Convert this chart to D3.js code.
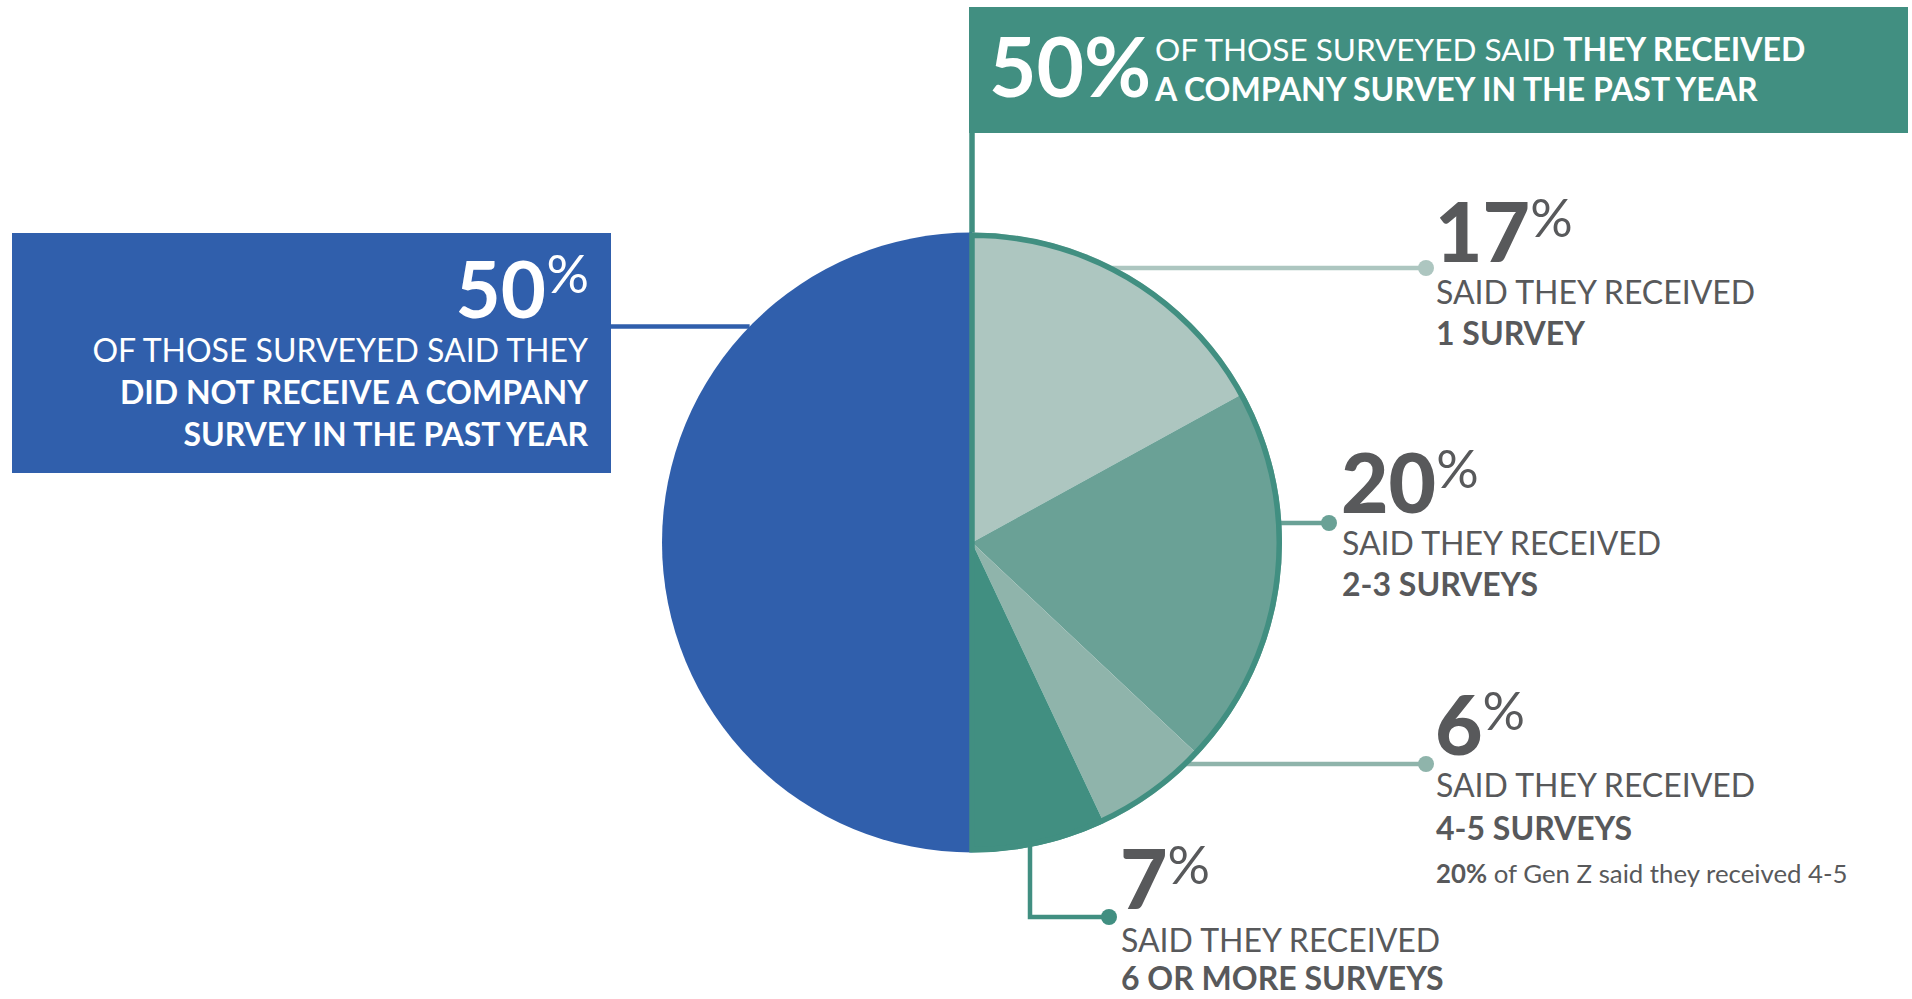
<!DOCTYPE html>
<html>
<head>
<meta charset="utf-8">
<script src="https://cdn.jsdelivr.net/npm/d3@7"></script>
<style>
  html, body { margin: 0; padding: 0; background: #ffffff; }
  svg { display: block; font-family: "Lato", "Open Sans", sans-serif; }
</style>
</head>
<body>
<svg id="chart" width="1912" height="999"></svg>
<script>
// Survey shares: how many company surveys respondents received in the past year
const categories = ["1 SURVEY", "2-3 SURVEYS", "4-5 SURVEYS", "6 OR MORE SURVEYS", "NO SURVEY"];
const shares = [17, 20, 6, 7, 50];
const sliceColors = ["#adc6c0", "#6aa196", "#8fb4ab", "#418f81", "#305fac"];
const labelLead = "SAID THEY RECEIVED";
const receivedTotal = 50;
const notReceivedTotal = 50;
const genZNote = { value: 20, text: " of Gen Z said they received 4-5" };

const GRAY = "#58595b";
const TEAL = "#418f81";
const BLUE = "#305fac";

const svg = d3.select("#chart");

// pie geometry
const cx = 972, cy = 542.5, R = 310;
const edgeX = (y, side) => cx + side * Math.sqrt(R * R - (y - cy) * (y - cy));
const edgeY = (x) => cy + Math.sqrt(R * R - (x - cx) * (x - cx));

const pie = d3.pie().sort(null).startAngle(0).endAngle(2 * Math.PI).value(d => d);
const arcs = pie(shares);
const arc = d3.arc().innerRadius(0).outerRadius(R);

// ---------- header boxes ----------
// teal box: share that received a survey
svg.append("rect").attr("x", 969).attr("y", 7).attr("width", 939).attr("height", 126).attr("fill", TEAL);
svg.append("text").attr("x", 989).attr("y", 97)
  .attr("font-size", 82).attr("font-weight", 700).attr("fill", "#fff")
  .text(receivedTotal + "%");
const t1 = svg.append("text").attr("x", 1155).attr("y", 61).attr("font-size", 32).attr("fill", "#fff");
t1.append("tspan").attr("font-weight", 400).attr("font-size", 31.5).text("OF THOSE SURVEYED SAID ");
t1.append("tspan").attr("font-weight", 700).text("THEY RECEIVED");
svg.append("text").attr("x", 1155).attr("y", 101).attr("font-size", 32).attr("font-weight", 700)
  .attr("fill", "#fff").text("A COMPANY SURVEY IN THE PAST YEAR");

// blue box: share that did not receive one
svg.append("rect").attr("x", 12).attr("y", 233).attr("width", 599).attr("height", 240).attr("fill", BLUE);
svg.append("text").attr("x", 546).attr("y", 318).attr("text-anchor", "end")
  .attr("font-size", 78).attr("font-weight", 700).attr("fill", "#fff")
  .text(notReceivedTotal);
svg.append("text").attr("x", 589).attr("y", 293).attr("text-anchor", "end")
  .attr("font-size", 53).attr("font-weight", 400).attr("fill", "#fff").text("%");
const blueLines = [
  { t: "OF THOSE SURVEYED SAID THEY", w: 400, y: 362 },
  { t: "DID NOT RECEIVE A COMPANY", w: 700, y: 404 },
  { t: "SURVEY IN THE PAST YEAR", w: 700, y: 446 }
];
svg.selectAll("text.blue-line").data(blueLines).join("text")
  .attr("class", "blue-line")
  .attr("x", 588).attr("y", d => d.y).attr("text-anchor", "end")
  .attr("font-size", 32).attr("font-weight", d => d.w).attr("fill", "#fff")
  .text(d => d.t);

// ---------- connectors ----------
const lines = svg.append("g").attr("fill", "none").attr("stroke-width", 4.5);
// blue box -> pie
lines.append("line").attr("x1", 611).attr("x2", edgeX(326.5, -1)).attr("y1", 326.5).attr("y2", 326.5)
  .attr("stroke", BLUE);
// teal box -> pie
lines.append("line").attr("x1", cx).attr("x2", cx).attr("y1", 133).attr("y2", cy - R + 2)
  .attr("stroke", TEAL).attr("stroke-width", 5.5);

// slice callouts (index into shares)
const callouts = [
  { i: 0, lineY: 268, dotX: 1426, textX: 1437, numY: 262, leadY: 304, boldY: 345 },
  { i: 1, lineY: 523, dotX: 1329, textX: 1343, numY: 513, leadY: 555, boldY: 596 },
  { i: 2, lineY: 764, dotX: 1426, textX: 1437, numY: 755, leadY: 797, boldY: 840 }
];
callouts.forEach(c => {
  const col = sliceColors[c.i];
  lines.append("line").attr("x1", edgeX(c.lineY, 1) - 4).attr("x2", c.dotX)
    .attr("y1", c.lineY).attr("y2", c.lineY).attr("stroke", col);
  svg.append("circle").attr("cx", c.dotX).attr("cy", c.lineY).attr("r", 8).attr("fill", col);
});
// 6+ surveys: elbow connector from the bottom of the pie
const elbowX = 1030, elbowY = 917, elbowDot = 1109;
lines.append("path")
  .attr("d", d3.line()([[elbowX, edgeY(elbowX) - 4], [elbowX, elbowY], [elbowDot, elbowY]]))
  .attr("stroke", sliceColors[3]);
svg.append("circle").attr("cx", elbowDot).attr("cy", elbowY).attr("r", 8).attr("fill", sliceColors[3]);
callouts.push({ i: 3, textX: 1122, numY: 909, leadY: 952, boldY: 990 });

// ---------- pie ----------
const pieG = svg.append("g").attr("transform", `translate(${cx},${cy})`);
pieG.selectAll("path.slice").data(arcs).join("path")
  .attr("class", "slice")
  .attr("d", arc)
  .attr("fill", (d, i) => sliceColors[i]);
// outline around the "received" half
const halfArc = d3.arc().innerRadius(0).outerRadius(R - 2.75)
  .startAngle(0).endAngle(d3.sum(shares.slice(0, 4)) / d3.sum(shares) * 2 * Math.PI);
pieG.append("path").attr("d", halfArc()).attr("fill", "none")
  .attr("stroke", TEAL).attr("stroke-width", 5.5).attr("stroke-linejoin", "miter");

// ---------- callout text ----------
callouts.forEach(c => {
  const num = svg.append("text").attr("x", c.textX - 2).attr("y", c.numY)
    .attr("font-size", 82).attr("font-weight", 900).attr("fill", GRAY)
    .text(shares[c.i]);
  const w = num.node().getComputedTextLength();
  svg.append("text").attr("x", c.textX - 2 + w).attr("y", c.numY - 25)
    .attr("font-size", 53).attr("font-weight", 400).attr("fill", GRAY).text("%");
  svg.append("text").attr("x", c.textX - 1).attr("y", c.leadY)
    .attr("font-size", 32).attr("font-weight", 400).attr("fill", GRAY).text(labelLead);
  svg.append("text").attr("x", c.textX - 1).attr("y", c.boldY)
    .attr("font-size", 32).attr("font-weight", 700).attr("fill", GRAY).text(categories[c.i]);
});

// Gen Z footnote under the 4-5 surveys callout
const note = svg.append("text").attr("x", 1436).attr("y", 883).attr("font-size", 25.8).attr("fill", GRAY);
note.append("tspan").attr("font-weight", 700).text(genZNote.value + "%");
note.append("tspan").attr("font-weight", 400).text(genZNote.text);
</script>
</body>
</html>
